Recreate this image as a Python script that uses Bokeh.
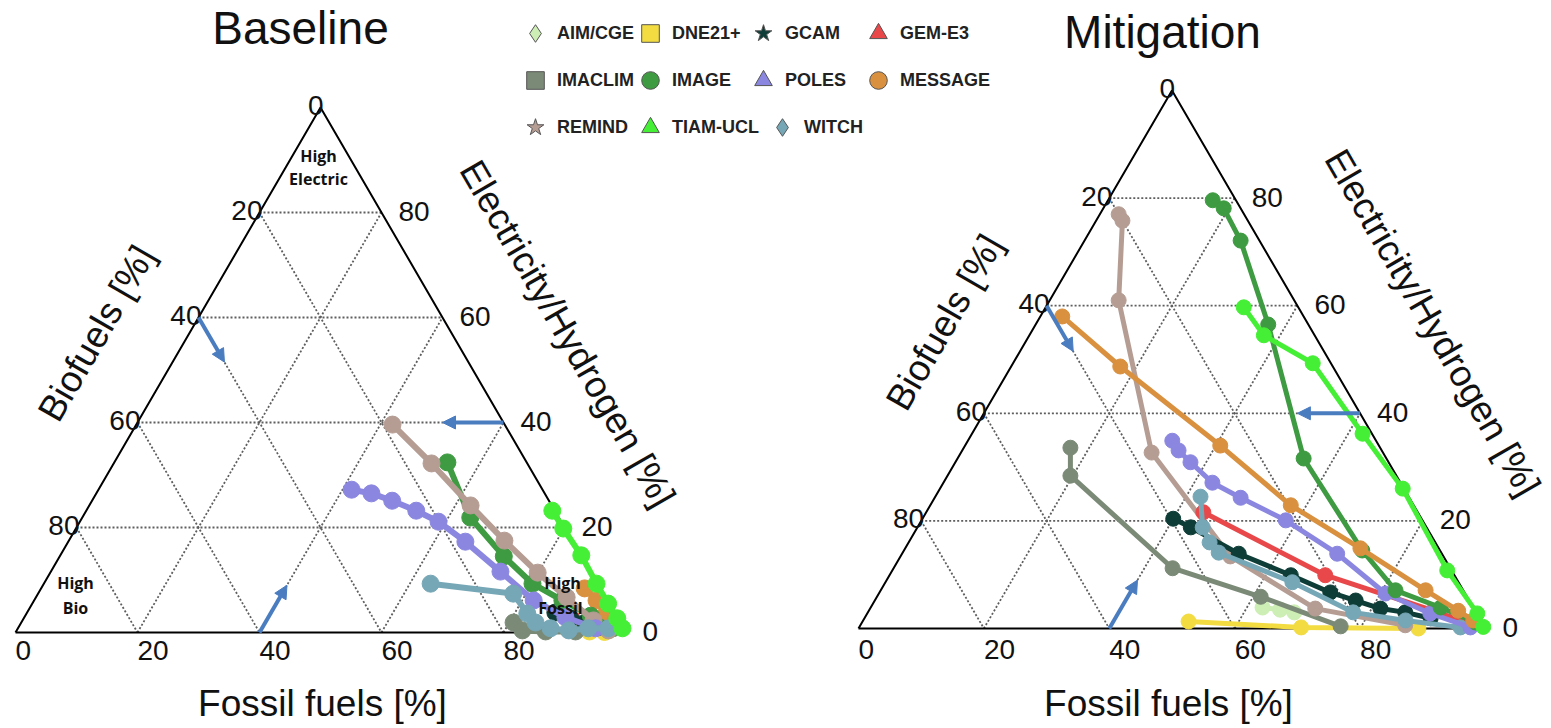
import math
from bokeh.plotting import figure
from bokeh.models import Range1d, Label, Arrow, NormalHead, Legend, LegendItem
from bokeh.core.properties import value
from bokeh.embed import file_html
from bokeh.resources import INLINE

# ---------------- data ----------------
models = ["AIM/CGE", "DNE21+", "GCAM", "GEM-E3", "IMACLIM", "IMAGE",
          "POLES", "MESSAGE", "REMIND", "TIAM-UCL", "WITCH"]
colors = ["#cdeeb4", "#f2dc42", "#0e3d37", "#e8484a", "#7b8a77", "#3e9b41",
          "#8b87e0", "#d9903f", "#b59d94", "#45ef35", "#76a7b6"]
legend_markers = ["diamond", "square", "star", "triangle", "square", "circle",
                  "triangle", "circle", "star", "triangle", "diamond"]

tick_values = [0, 20, 40, 60, 80]
grid_values = [20, 40, 60, 80]

# Baseline: shares in % (biofuels = 100 - fossil - electricity)
base_aim_fossil = [94.5, 97.0]
base_aim_elec = [1.0, 0.4]
base_dne_fossil = [94.0, 96.5]
base_dne_elec = [0.2, 0.1]
base_gcam_fossil = [86.6, 89.6, 92.5, 95.3]
base_gcam_elec = [3.8, 2.7, 1.9, 1.1]
base_gem_fossil = [90.0, 94.0, 97.0]
base_gem_elec = [2.5, 1.5, 0.6]
base_imaclim_fossil = [80.7, 82.9, 86.8, 91.7]
base_imaclim_elec = [1.9, 0.4, 0.2, 0.2]
base_image_fossil = [54.6, 63.6, 72.8, 80.1, 86.6, 92.7, 97.5]
base_image_elec = [32.4, 21.9, 14.5, 9.3, 6.1, 3.2, 0.8]
base_poles_fossil = [41.5, 45.1, 49.2, 54.1, 58.8, 65.1, 73.7, 81.9, 88.7, 94.7]
base_poles_elec = [27.2, 26.5, 25.1, 23.2, 21.1, 17.3, 11.6, 6.1, 2.9, 0.8]
base_message_fossil = [89.1, 92.2, 95.0, 97.2]
base_message_elec = [8.4, 6.1, 3.8, 1.9]
base_remind_fossil = [42.0, 52.1, 62.5, 71.4, 79.9, 87.0, 93.6, 97.0]
base_remind_elec = [39.6, 32.2, 24.2, 17.5, 11.4, 6.7, 2.3, 0.4]
base_tiam_fossil = [76.4, 79.9, 85.4, 90.6, 94.4, 97.3, 99.1]
base_tiam_elec = [23.2, 19.8, 14.7, 9.3, 5.5, 2.7, 0.8]
base_witch_fossil = [63.4, 77.9, 82.1, 84.3, 87.3, 90.5, 93.5, 96.8]
base_witch_elec = [9.3, 7.4, 3.6, 1.9, 0.8, 0.4, 0.8, 0.8]

# Mitigation
mit_aim_fossil = [62.5, 65.5, 68.0]
mit_aim_elec = [3.9, 3.5, 3.0]
mit_dne_fossil = [52.0, 70.5, 89.3]
mit_dne_elec = [1.3, 0.2, 0.0]
mit_gcam_fossil = [40.0, 43.6, 53.7, 64.0, 71.9, 76.7, 81.4, 85.7, 90.3]
mit_gcam_elec = [20.4, 18.8, 13.9, 9.9, 6.7, 5.2, 3.7, 3.0, 1.9]
mit_gem_fossil = [44.2, 69.5, 90.0, 97.2]
mit_gem_elec = [21.6, 9.9, 3.3, 0.9]
mit_imaclim_fossil = [17.0, 19.6, 44.5, 61.2, 76.7]
mit_imaclim_elec = [33.6, 28.4, 11.2, 5.9, 0.4]
mit_image_fossil = [16.7, 19.2, 24.9, 37.1, 55.2, 73.1, 82.1, 90.9, 97.9]
mit_image_elec = [79.6, 78.1, 72.1, 56.5, 31.6, 14.5, 7.1, 3.9, 1.1]
mit_poles_fossil = [32.6, 34.5, 37.5, 42.9, 48.8, 58.1, 69.4, 80.8, 89.8, 97.5]
mit_poles_elec = [34.9, 33.1, 30.9, 27.1, 24.3, 20.1, 13.9, 6.5, 2.8, 0.2]
mit_message_fossil = [3.5, 17.4, 40.7, 57.5, 72.6, 86.9, 94.0, 97.3]
mit_message_elec = [58.0, 48.7, 34.0, 22.9, 14.9, 7.1, 3.3, 1.5]
mit_remind_fossil = [3.0, 4.2, 11.0, 30.4, 52.6, 71.0, 86.9]
mit_remind_elec = [77.0, 75.8, 61.0, 32.7, 13.4, 3.7, 0.6]
mit_tiam_fossil = [31.6, 37.4, 47.8, 62.3, 73.8, 88.5, 97.3, 99.5]
mit_tiam_elec = [59.7, 54.5, 49.3, 36.2, 26.0, 10.8, 2.8, 0.3]
mit_witch_fossil = [42.3, 45.5, 48.0, 50.4, 64.9, 77.4, 86.5, 95.9]
mit_witch_elec = [24.5, 18.8, 16.0, 14.1, 8.6, 3.0, 1.5, 0.2]

base_fossil = {"AIM/CGE": base_aim_fossil, "DNE21+": base_dne_fossil, "GCAM": base_gcam_fossil,
               "GEM-E3": base_gem_fossil, "IMACLIM": base_imaclim_fossil, "IMAGE": base_image_fossil,
               "POLES": base_poles_fossil, "MESSAGE": base_message_fossil, "REMIND": base_remind_fossil,
               "TIAM-UCL": base_tiam_fossil, "WITCH": base_witch_fossil}
base_elec = {"AIM/CGE": base_aim_elec, "DNE21+": base_dne_elec, "GCAM": base_gcam_elec,
             "GEM-E3": base_gem_elec, "IMACLIM": base_imaclim_elec, "IMAGE": base_image_elec,
             "POLES": base_poles_elec, "MESSAGE": base_message_elec, "REMIND": base_remind_elec,
             "TIAM-UCL": base_tiam_elec, "WITCH": base_witch_elec}
mit_fossil = {"AIM/CGE": mit_aim_fossil, "DNE21+": mit_dne_fossil, "GCAM": mit_gcam_fossil,
              "GEM-E3": mit_gem_fossil, "IMACLIM": mit_imaclim_fossil, "IMAGE": mit_image_fossil,
              "POLES": mit_poles_fossil, "MESSAGE": mit_message_fossil, "REMIND": mit_remind_fossil,
              "TIAM-UCL": mit_tiam_fossil, "WITCH": mit_witch_fossil}
mit_elec = {"AIM/CGE": mit_aim_elec, "DNE21+": mit_dne_elec, "GCAM": mit_gcam_elec,
            "GEM-E3": mit_gem_elec, "IMACLIM": mit_imaclim_elec, "IMAGE": mit_image_elec,
            "POLES": mit_poles_elec, "MESSAGE": mit_message_elec, "REMIND": mit_remind_elec,
            "TIAM-UCL": mit_tiam_elec, "WITCH": mit_witch_elec}

base_order = ["AIM/CGE", "DNE21+", "GEM-E3", "IMACLIM", "GCAM", "MESSAGE",
              "IMAGE", "REMIND", "POLES", "WITCH", "TIAM-UCL"]
mit_order = ["AIM/CGE", "DNE21+", "IMACLIM", "REMIND", "GEM-E3", "GCAM",
             "WITCH", "POLES", "IMAGE", "MESSAGE", "TIAM-UCL"]

# ---------------- figure ----------------
W, H = 1551, 728
S = math.sqrt(3) / 2
FONT = "Liberation Sans"
ARROW_COLOR = "#4a7cc0"

p = figure(width=W, height=H, x_range=Range1d(-2.459, 251.80), y_range=Range1d(-15.836, 104.25),
           output_backend="svg", toolbar_location=None, min_border=0,
           x_axis_type=None, y_axis_type=None)
p.extra_x_ranges = {"rx": Range1d(-136.84, 110.53)}
p.extra_y_ranges = {"ry": Range1d(-16.098, 101.09)}
p.outline_line_color = None
p.background_fill_color = "white"


def tern(f, e):
    return [a + b / 2 for a, b in zip(f, e)], [b * S for b in e]


def draw_ternary(xr, yr, fossil, elec, order, lw, ms, bottom_off):
    kw = dict(x_range_name=xr, y_range_name=yr)
    xs, ys = [], []
    for v in grid_values:
        for f, e in (([0, 100 - v], [v, v]),          # electricity = v
                     ([0, 100 - v], [100 - v, 0]),    # biofuels = v
                     ([v, v], [0, 100 - v])):         # fossil = v
            x, y = tern(f, e)
            xs.append(x)
            ys.append(y)
    p.multi_line(xs, ys, line_color="#5e5e5e", line_width=1.8, line_dash="2 2", **kw)
    x, y = tern([0, 100, 0, 0], [0, 0, 100, 0])
    p.line(x, y, line_color="black", line_width=2, **kw)

    tk = dict(text_font=value(FONT), text_font_size=value("28px"), text_color="#111111", **kw)
    labels = [str(t) for t in tick_values]
    x, y = tern([0] * len(tick_values), [100 - t for t in tick_values])
    p.text(x, y, text=labels, text_align="right", text_baseline="middle", x_offset=3, y_offset=-2, **tk)
    x, y = tern([100 - t for t in tick_values], tick_values)
    p.text(x, y, text=labels, text_align="left", text_baseline="middle", x_offset=17, y_offset=-1, **tk)
    x, y = tern(tick_values, [0] * len(tick_values))
    p.text(x, y, text=labels, text_align="left", text_baseline="top", x_offset=0,
           y_offset=bottom_off, **tk)

    for m in order:
        c = colors[models.index(m)]
        x, y = tern(fossil[m], elec[m])
        p.line(x, y, line_color=c, line_width=lw, **kw)
        p.scatter(x, y, marker="circle", size=ms, fill_color=c, line_color=c, **kw)

    for (f0, e0), (f1, e1) in (((0, 60), (8.5, 51.5)), ((60, 40), (50, 40)), ((40, 0), (40, 9))):
        x, y = tern([f0, f1], [e0, e1])
        p.add_layout(Arrow(end=NormalHead(size=13, fill_color=ARROW_COLOR, line_color=ARROW_COLOR),
                           x_start=x[0], y_start=y[0], x_end=x[1], y_end=y[1],
                           line_color=ARROW_COLOR, line_width=4, **kw))


draw_ternary("default", "default", base_fossil, base_elec, base_order, 6, 17, 9)
draw_ternary("rx", "ry", mit_fossil, mit_elec, mit_order, 5, 15, 12)


def label(text, px, py, size, angle=0.0, bold=False, font=FONT):
    p.add_layout(Label(x=px, y=H - py, x_units="screen", y_units="screen", text=text,
                       text_font=font, text_font_size=size, angle=angle,
                       text_font_style="bold" if bold else "normal", text_color="#111111",
                       text_align="center", text_baseline="middle"))


# titles
label("Baseline", 300, 27, "46px")
label("Mitigation", 1162, 31, "46px")
# axis titles
label("Fossil fuels [%]", 322, 703, "37px")
label("Fossil fuels [%]", 1168, 703, "37px")
label("Biofuels [%]", 96, 333, "37px", angle=math.pi / 3)
label("Biofuels [%]", 944, 322, "37px", angle=math.pi / 3)
label("Electricity/Hydrogen [%]", 567, 333, "37px", angle=-math.pi / 3)
label("Electricity/Hydrogen [%]", 1432, 322, "37px", angle=-math.pi / 3)
# corner annotations
for t, px, py in (("High", 318, 155), ("Electric", 318, 178), ("High", 75, 582), ("Bio", 75, 607),
                  ("High", 562, 582), ("Fossil", 560, 607)):
    label(t, px, py, "16px", bold=True, font="Open Sans")

# ---------------- legend ----------------
NaN = float("nan")
legend_rs = {}
for i, m in enumerate(models):
    legend_rs[m] = p.scatter(x=[NaN], y=[NaN], marker=legend_markers[i], fill_color=colors[i],
                             line_color="#555555", line_width=1)

ROW, GAP = 44, 3
legend_cols = [(["AIM/CGE", "IMACLIM", "REMIND"], 535, 11),
               (["DNE21+", "IMAGE", "TIAM-UCL"], 650, 11),
               (["GCAM", "POLES"], 763, 11),
               (["GEM-E3", "MESSAGE"], 878, 11),
               (["WITCH"], 782, 11 + 2 * (ROW + GAP))]
for names, cx, top in legend_cols:
    n = len(names)
    height = n * ROW + (n - 1) * GAP
    lg = Legend(items=[LegendItem(label=nm, renderers=[legend_rs[nm]]) for nm in names],
                location=(cx - ROW / 2, H - top - height),
                orientation="vertical", padding=0, margin=0, spacing=GAP,
                glyph_width=ROW, glyph_height=ROW, label_height=ROW, label_standoff=0,
                label_text_font=FONT, label_text_font_size="18px", label_text_font_style="bold",
                label_text_color="#222222", background_fill_alpha=0, border_line_alpha=0)
    p.add_layout(lg)

open("out.html", "w").write(file_html(p, INLINE))
